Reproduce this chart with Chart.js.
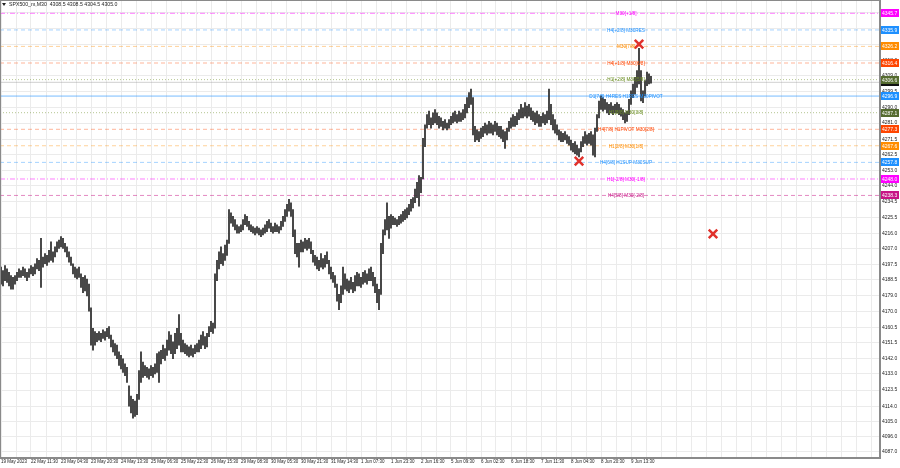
<!DOCTYPE html>
<html>
<head>
<meta charset="utf-8">
<script src="https://cdn.jsdelivr.net/npm/chart.js@4.4.0/dist/chart.umd.min.js"></script>
<style>
  html, body { margin: 0; padding: 0; background: #fff; }
  #wrap { width: 900px; height: 468px; position: relative; }
</style>
</head>
<body>
<div id="wrap"><canvas id="chart"></canvas></div>
<script>
// ---- data ----
const symbolTitle = 'SPX500_m,M30';
const lastQuote = [4308.5, 4308.5, 4304.5, 4305.0];
const bidPrice = 4305.0;

const timeLabels = [
  '19 May 2023', '22 May 11:30', '23 May 04:30', '23 May 20:30', '24 May 13:30',
  '25 May 06:30', '25 May 22:30', '26 May 15:30', '29 May 08:30', '30 May 05:30',
  '30 May 21:30', '31 May 14:30', '1 Jun 07:30', '1 Jun 23:30', '2 Jun 16:30',
  '5 Jun 09:30', '6 Jun 02:30', '6 Jun 18:30', '7 Jun 11:30', '8 Jun 04:30',
  '8 Jun 20:30', '9 Jun 13:30'
];

const priceTicks = [
  4087.0, 4096.0, 4105.0, 4114.0, 4123.5, 4133.0, 4142.0, 4151.5, 4160.5, 4170.0,
  4179.0, 4188.5, 4197.5, 4207.0, 4216.0, 4225.5, 4234.5, 4244.0, 4253.0, 4262.5,
  4271.5, 4281.0, 4290.0, 4299.5, 4309.0, 4318.0, 4327.5, 4336.5, 4346.0
];

const highs = [
  4196,4194,4197,4195,4193,4191,4190,4191,4193,4195,4194,4196,4195,4193,4195,4197,4196,4198,4201,4200,
  4213,4202,4204,4203,4206,4211,4205,4208,4211,4212,4214,4213,4210,4208,4205,4202,4198,4196,4195,4196,
  4192,4190,4191,4189,4186,4172,4160,4158,4157,4158,4157,4159,4158,4160,4161,4156,4153,4151,4150,4146,
  4144,4142,4139,4137,4126,4120,4118,4117,4121,4135,4146,4140,4138,4137,4136,4138,4137,4139,4145,4146,
  4147,4150,4148,4153,4158,4156,4152,4157,4160,4168,4157,4153,4151,4150,4149,4150,4148,4150,4151,4153,
  4156,4158,4155,4157,4161,4164,4163,4192,4200,4205,4208,4204,4209,4212,4230,4228,4226,4224,4221,4220,
  4221,4224,4227,4226,4223,4221,4220,4219,4220,4219,4218,4219,4221,4223,4224,4222,4220,4222,4221,4220,
  4223,4226,4230,4233,4236,4234,4230,4218,4210,4210,4212,4211,4213,4212,4213,4211,4206,4203,4202,4200,
  4204,4201,4203,4205,4200,4196,4193,4191,4186,4180,4185,4196,4192,4189,4188,4190,4187,4191,4193,4192,
  4190,4193,4194,4192,4195,4196,4193,4190,4186,4183,4210,4218,4224,4234,4226,4227,4226,4225,4224,4226,
  4227,4229,4230,4231,4233,4236,4237,4242,4246,4250,4249,4272,4280,4286,4288,4284,4287,4289,4287,4285,
  4284,4282,4283,4281,4283,4285,4287,4288,4286,4288,4287,4289,4292,4296,4299,4301,4296,4279,4277,4276,
  4278,4279,4281,4280,4282,4281,4280,4282,4281,4279,4279,4277,4276,4278,4282,4284,4286,4285,4287,4289,
  4292,4290,4293,4291,4292,4290,4288,4287,4288,4286,4285,4287,4286,4288,4301,4292,4286,4283,4280,4277,
  4276,4275,4276,4274,4273,4271,4269,4270,4268,4266,4270,4273,4276,4274,4275,4276,4274,4278,4286,4294,
  4297,4296,4295,4293,4292,4293,4291,4292,4293,4292,4290,4289,4287,4288,4295,4300,4304,4308,4312,4325,
  4312,4300,4306,4311,4310,4308.5
];

const lows = [
  4186,4185,4188,4187,4185,4183,4183,4186,4188,4190,4190,4191,4190,4188,4190,4192,4191,4192,4195,4194,
  4184,4196,4198,4197,4199,4200,4199,4202,4205,4207,4208,4207,4205,4202,4199,4197,4192,4190,4189,4190,
  4184,4181,4182,4179,4170,4150,4147,4150,4152,4153,4152,4154,4153,4155,4154,4149,4146,4144,4142,4138,
  4136,4134,4132,4128,4114,4110,4107,4108,4109,4118,4128,4131,4132,4131,4130,4132,4131,4133,4134,4128,
  4139,4142,4141,4144,4147,4145,4142,4145,4148,4150,4146,4146,4145,4144,4143,4144,4143,4145,4146,4146,
  4148,4150,4148,4149,4155,4158,4157,4160,4188,4195,4198,4197,4200,4203,4210,4222,4220,4218,4216,4216,
  4217,4218,4221,4220,4218,4217,4216,4215,4216,4215,4214,4215,4216,4217,4219,4217,4216,4217,4217,4216,
  4218,4220,4223,4226,4229,4226,4214,4204,4202,4196,4205,4205,4207,4206,4207,4204,4199,4197,4195,4194,
  4196,4195,4196,4198,4192,4189,4187,4184,4176,4171,4175,4180,4183,4182,4181,4183,4181,4182,4185,4185,
  4184,4186,4187,4186,4188,4188,4185,4181,4175,4171,4180,4204,4215,4218,4213,4219,4221,4221,4220,4221,
  4222,4223,4224,4225,4227,4229,4231,4234,4237,4232,4240,4248,4267,4278,4280,4278,4280,4281,4280,4278,
  4279,4277,4278,4277,4278,4280,4281,4282,4281,4282,4282,4283,4284,4287,4290,4292,4274,4270,4271,4270,
  4272,4273,4275,4274,4275,4275,4274,4276,4274,4273,4272,4270,4266,4271,4276,4278,4279,4279,4280,4283,
  4284,4284,4285,4284,4285,4283,4282,4280,4281,4279,4279,4281,4280,4281,4283,4280,4277,4275,4274,4271,
  4270,4270,4271,4269,4268,4265,4264,4263,4262,4261,4264,4267,4269,4268,4269,4268,4262,4261,4276,4284,
  4289,4288,4289,4287,4286,4287,4286,4287,4287,4286,4285,4283,4281,4282,4286,4292,4296,4298,4302,4304,
  4294,4293,4297,4303,4304,4304.5
];

// Murrey levels
const levelPrices = [4355.5, 4345.7, 4335.9, 4326.2, 4316.4, 4306.6, 4296.9, 4287.1, 4277.3, 4267.6, 4257.8, 4248.0, 4238.3];
const levelNames = [
  'M30[+2/8]', 'M30[+1/8]', 'H4[+2/8] M30RES', 'M30[7/8]', 'H4[+1/8] M30[6/8]',
  'H1[+2/8] M30[5/8]', 'D1[7/8] H4RES H1RES M30PIVOT', 'H1[8/8] M30[3/8]',
  'H4[7/8] H1PIVOT M30[2/8]', 'H1[2/8] M30[1/8]', 'H4[6/8] H1SUP M30SUP',
  'H1[-2/8] M30[-1/8]', 'H4[5/8] M30[-2/8]'
];

// signal crosses
const signalIndex = [319, 289, 356];
const signalPrice = [4327.5, 4258.6, 4215.6];

// ---- styles ----
const PINK = '#c71585', MAG = '#ff00ff', BLUE = '#1e90ff', ORANGE = '#ff8c00', RED = '#ff4500', OLIVE = '#556b2f';
const levelStyles = [
  {line: 'rgba(199,21,133,0.5)', dash: [4, 3], text: PINK, badge: PINK},
  {line: 'rgba(255,0,255,0.5)', dash: [5, 2, 1, 2], text: MAG, badge: MAG},
  {line: 'rgba(30,144,255,0.4)', dash: [4, 3], text: BLUE, badge: BLUE},
  {line: 'rgba(255,140,0,0.4)', dash: [4, 3], text: ORANGE, badge: ORANGE},
  {line: 'rgba(255,69,0,0.4)', dash: [4, 3], text: RED, badge: RED},
  {line: 'rgba(107,142,35,0.5)', dash: [1, 2], text: '#6b8e23', badge: OLIVE},
  {line: 'rgba(30,144,255,0.6)', dash: [], text: BLUE, badge: BLUE},
  {line: 'rgba(107,142,35,0.5)', dash: [1, 2], text: '#6b8e23', badge: OLIVE},
  {line: 'rgba(255,69,0,0.4)', dash: [4, 3], text: RED, badge: RED},
  {line: 'rgba(255,140,0,0.4)', dash: [4, 3], text: ORANGE, badge: ORANGE},
  {line: 'rgba(30,144,255,0.4)', dash: [4, 3], text: BLUE, badge: BLUE},
  {line: 'rgba(255,0,255,0.5)', dash: [5, 2, 1, 2], text: MAG, badge: MAG},
  {line: 'rgba(199,21,133,0.5)', dash: [4, 3], text: PINK, badge: PINK}
];

const FONT = '"Liberation Sans", Arial, sans-serif';
const X_MIN = -0.5, X_MAX = 439.5;

// вертикальная сетка через каждые пол-подписи
const gridSteps = [];
for (let k = 0; k * 7.5 <= X_MAX; k++) gridSteps.push(k * 7.5);

const candles = highs.map((h, i) => ({x: i, y: [lows[i], h]}));

const levelSets = levelPrices.map((p, i) => ({
  type: 'line',
  data: [{x: X_MIN, y: p}, {x: X_MAX, y: p}],
  borderColor: levelStyles[i].line,
  borderDash: levelStyles[i].dash,
  borderWidth: 1,
  pointRadius: 0,
  order: 3
}));

const bidSet = {
  type: 'line',
  data: [{x: X_MIN, y: bidPrice}, {x: X_MAX, y: bidPrice}],
  borderColor: 'rgba(150,150,150,0.45)',
  borderWidth: 1,
  pointRadius: 0,
  order: 3
};

const overlay = {
  id: 'overlay',
  afterDatasetsDraw(chart) {
    const {ctx, scales: {x, y}} = chart;
    ctx.save();
    ctx.font = '4.7px ' + FONT;
    ctx.textAlign = 'center';
    ctx.textBaseline = 'middle';
    const cx = x.getPixelForValue(312.5);
    levelPrices.forEach((p, i) => {
      ctx.fillStyle = levelStyles[i].text;
      ctx.fillText(levelNames[i], cx, y.getPixelForValue(p) + 0.5);
    });
    ctx.restore();
  },
  afterDraw(chart) {
    const {ctx, chartArea, scales: {y}} = chart;
    ctx.save();
    // рамка
    ctx.strokeStyle = '#8a8a8a';
    ctx.lineWidth = 1;
    ctx.strokeRect(chartArea.left + 0.5, chartArea.top + 0.5,
      chartArea.right - chartArea.left - 1, chartArea.bottom - chartArea.top - 1);

    // ценовые метки справа
    ctx.font = '5px ' + FONT;
    ctx.textAlign = 'left';
    ctx.textBaseline = 'middle';
    const badge = (p, color) => {
      const py = y.getPixelForValue(p);
      if (py < chartArea.top || py > chartArea.bottom) return;
      ctx.fillStyle = color;
      ctx.fillRect(chartArea.right + 1, Math.round(py) - 4, 18, 8);
      ctx.fillStyle = '#fff';
      ctx.fillText(p.toFixed(1), chartArea.right + 2, py + 0.5);
    };
    badge(bidPrice, '#111');
    levelPrices.forEach((p, i) => badge(p, levelStyles[i].badge));

    // заголовок
    ctx.fillStyle = '#222';
    ctx.beginPath();
    ctx.moveTo(2, 3); ctx.lineTo(6, 3); ctx.lineTo(4, 6); ctx.closePath();
    ctx.fill();
    ctx.font = '5.2px ' + FONT;
    ctx.fillText(symbolTitle + '  ' + lastQuote.map(v => v.toFixed(1)).join(' '), 9, 5);
    ctx.restore();
  }
};

new Chart(document.getElementById('chart'), {
  type: 'bar',
  data: {
    datasets: [
      {
        type: 'line',
        data: signalIndex.map((v, i) => ({x: v, y: signalPrice[i]})),
        showLine: false,
        pointStyle: 'crossRot',
        pointRadius: 6,
        pointBorderWidth: 2.5,
        borderColor: '#e0312b',
        backgroundColor: '#e0312b',
        order: 1
      },
      {
        type: 'bar',
        data: candles,
        backgroundColor: '#303030',
        borderWidth: 0,
        barThickness: 1.1,
        order: 2
      },
      bidSet,
      ...levelSets
    ]
  },
  options: {
    responsive: true,
    maintainAspectRatio: false,
    animation: false,
    events: [],
    layout: {padding: 0, autoPadding: false},
    plugins: {legend: {display: false}, tooltip: {enabled: false}},
    scales: {
      x: {
        type: 'linear',
        offset: false,
        min: X_MIN,
        max: X_MAX,
        afterBuildTicks: s => { s.ticks = gridSteps.map(v => ({value: v})); },
        afterFit: s => { s.height = 10; s.paddingLeft = 0; s.paddingRight = 0; },
        ticks: {
          autoSkip: false,
          maxRotation: 0,
          align: 'start',
          padding: 1,
          color: '#222',
          font: {size: 4.5, family: FONT},
          callback: v => (v % 15 === 0 ? (timeLabels[v / 15] || '') : '')
        },
        grid: {color: '#ebebeb', drawTicks: false, offset: false},
        border: {color: '#8a8a8a'}
      },
      y: {
        position: 'right',
        min: 4083.46,
        max: 4353.56,
        afterBuildTicks: s => { s.ticks = priceTicks.map(v => ({value: v})); },
        afterFit: s => { s.width = 20; s.paddingTop = 0; s.paddingBottom = 0; },
        ticks: {
          padding: 2,
          color: '#222',
          font: {size: 5, family: FONT},
          callback: v => v.toFixed(1)
        },
        grid: {color: '#ebebeb', drawTicks: false},
        border: {color: '#8a8a8a'}
      }
    }
  },
  plugins: [overlay]
});
</script>
</body>
</html>
